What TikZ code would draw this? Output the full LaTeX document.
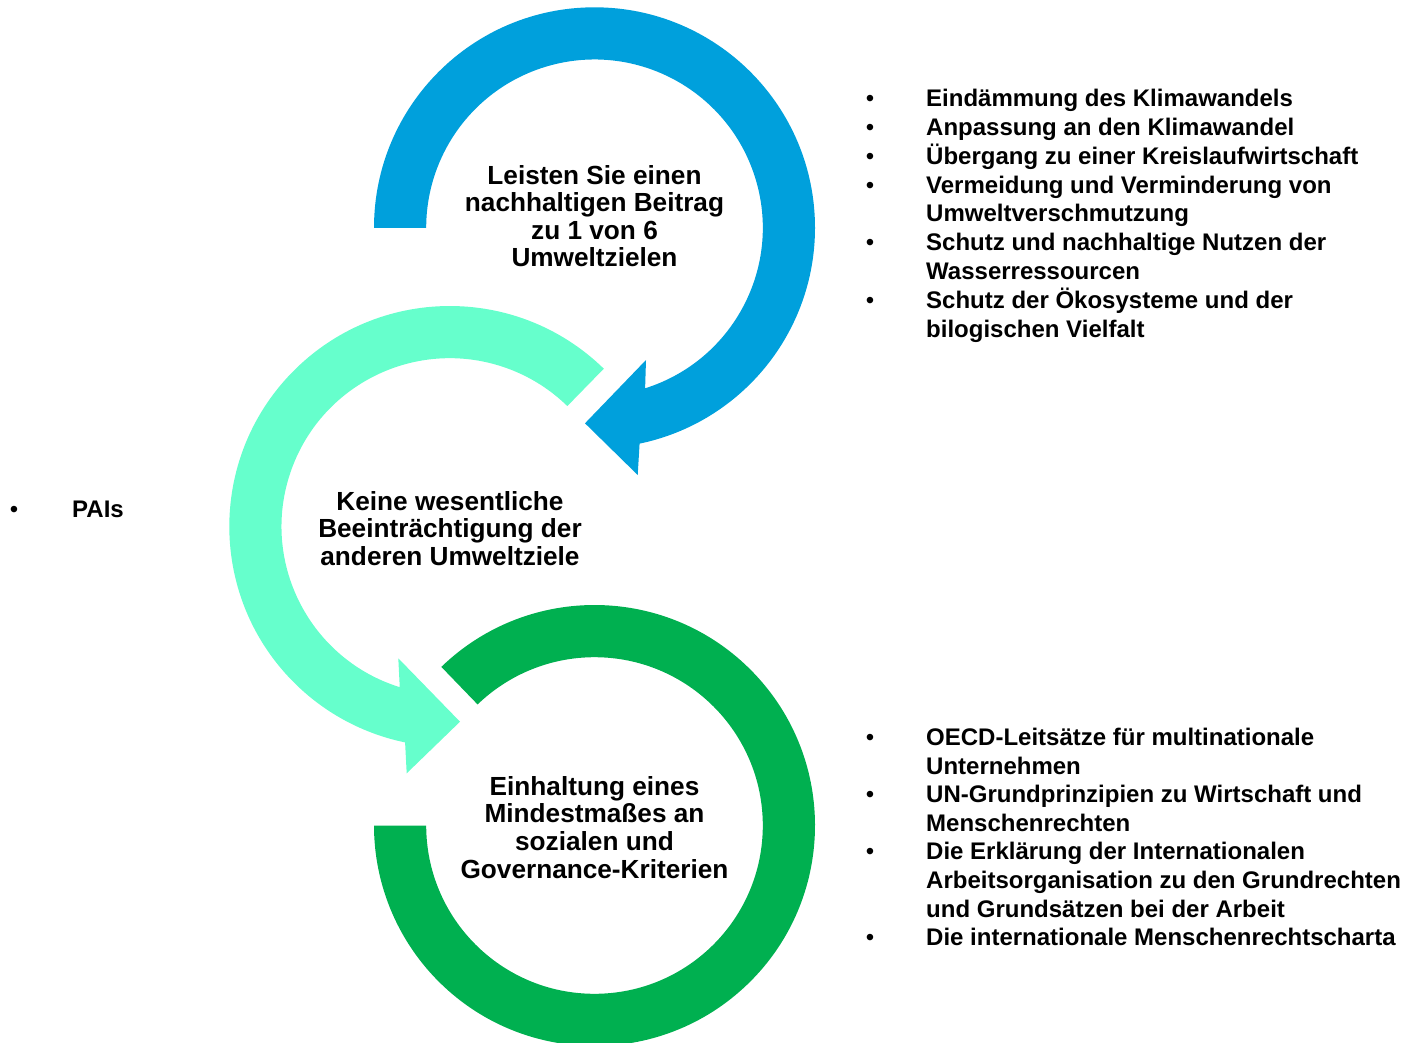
\documentclass[tikz,border=0pt]{standalone}
\usepackage{fontspec}
\setmainfont{Liberation Sans}
\definecolor{cblue}{HTML}{00A0DC}
\definecolor{cmint}{HTML}{66FFCC}
\definecolor{cgreen}{HTML}{00B050}
\begin{document}
\begin{tikzpicture}[x=1pt,y=1pt,
  ctext/.style={font=\bfseries\fontsize{26.2}{27.5}\selectfont, inner sep=0pt, anchor=base},
  ltext/.style={font=\bfseries\fontsize{24}{28.6}\selectfont, inner sep=0pt, anchor=base west},
  bul/.style={font=\fontsize{24}{28.6}\selectfont, inner sep=0pt, anchor=base}]
\useasboundingbox (0,0) rectangle (1413,-1043);
\coordinate (cb) at (594.5,-227.8);
\coordinate (cm) at (449.8,-526.5);
\coordinate (cg) at (594.5,-825.5);
% blue circular arrow
\fill[cblue] ([shift={(180:220.5)}]cb) arc[start angle=180,end angle=-78.2,radius=220.5]
  -- (637.7,-475) -- (585,-423.3) -- (646,-360)
  -- ([shift={(-72.5:168.3)}]cb) arc[start angle=-72.5,end angle=180,radius=168.3] -- cycle;
% mint circular arrow
\fill[cmint] ([shift={(45.7:220.5)}]cm) arc[start angle=45.7,end angle=258.3,radius=220.5]
  -- (406.7,-773.3) -- (460,-721.7) -- (398.3,-658.3)
  -- ([shift={(252.7:168.3)}]cm) arc[start angle=252.7,end angle=45.7,radius=168.3] -- cycle;
% green ring
\fill[cgreen] ([shift={(134:220.5)}]cg) arc[start angle=134,end angle=-180,radius=220.5]
  -- ([shift={(180:168.3)}]cg) arc[start angle=-180,end angle=134,radius=168.3] -- cycle;
% circle texts
\foreach \t [count=\i] in {Leisten Sie einen,nachhaltigen Beitrag,zu 1 von 6,Umweltzielen}
  \node[ctext] (tb\i) at (594.5,{-184.3-27.5*(\i-1)}) {\t};
\foreach \t [count=\i] in {Keine wesentliche,Beeinträchtigung der,anderen Umweltziele}
  \node[ctext] (tm\i) at (450,{-510-27.5*(\i-1)}) {\t};
\foreach \t [count=\i] in {Einhaltung eines,Mindestmaßes an,sozialen und,Governance-Kriterien}
  \node[ctext] (tg\i) at (594.5,{-795-27.8*(\i-1)}) {\t};
% list 1
\foreach \t [count=\i] in {Eindämmung des Klimawandels,Anpassung an den Klimawandel,Übergang zu einer Kreislaufwirtschaft,Vermeidung und Verminderung von,Umweltverschmutzung,Schutz und nachhaltige Nutzen der,Wasserressourcen,Schutz der Ökosysteme und der,bilogischen Vielfalt}
  \node[ltext] (la\i) at (926,{-107-28.75*(\i-1)}) {\t};
\foreach \i in {1,2,3,4,6,8}
  \node[bul] (ba\i) at (870,{-107-28.75*(\i-1)}) {•};
% list 2
\foreach \t [count=\i] in {OECD-Leitsätze für multinationale,Unternehmen,UN-Grundprinzipien zu Wirtschaft und,Menschenrechten,Die Erklärung der Internationalen,Arbeitsorganisation zu den Grundrechten,und Grundsätzen bei der Arbeit,Die internationale Menschenrechtscharta}
  \node[ltext] (lb\i) at (926,{-745.5-28.6*(\i-1)}) {\t};
\foreach \i in {1,3,5,8}
  \node[bul] (bb\i) at (870,{-745.5-28.6*(\i-1)}) {•};
% PAIs
\node[bul] (bp) at (14,-517) {•};
\node[ltext] (pais) at (72,-517) {PAIs};
\end{tikzpicture}
\end{document}
